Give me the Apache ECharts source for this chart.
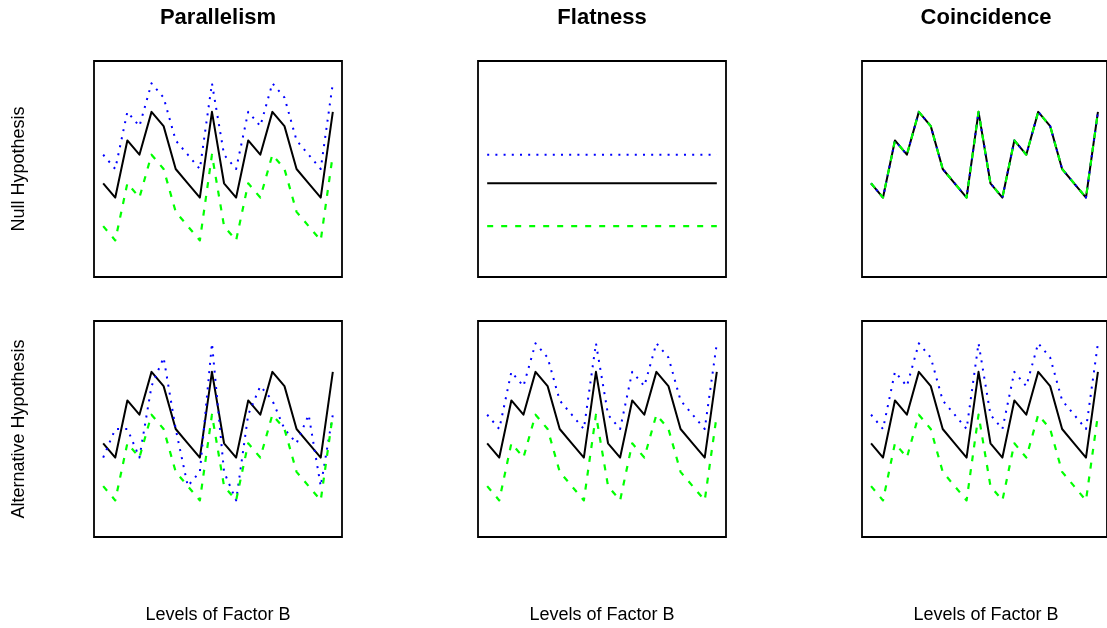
<!DOCTYPE html>
<html>
<head>
<meta charset="utf-8">
<title>Profile analysis hypotheses</title>
<script src="https://cdn.jsdelivr.net/npm/echarts@6/dist/echarts.min.js"></script>
<style>
  html, body { margin: 0; padding: 0; background: #ffffff; }
  #chart { width: 1107px; height: 628px; }
</style>
</head>
<body>
<div id="chart"></div>
<script>
// Levels of factor B (x positions)
const levels = [1, 2, 3, 4, 5, 6, 7, 8, 9, 10, 11, 12, 13, 14, 15, 16, 17, 18, 19, 20];

// Column and row headings
const columnTitles = ['Parallelism', 'Flatness', 'Coincidence'];
const rowTitles = ['Null Hypothesis', 'Alternative Hypothesis'];
const xAxisTitle = 'Levels of Factor B';

// Group profiles: middle group (black), upper group (blue), lower group (green)
const profileMid   = [1, 0, 4, 3, 6, 5, 2, 1, 0, 6, 1, 0, 4, 3, 6, 5, 2, 1, 0, 6];
const profileHigh  = [3, 2, 6, 5, 8, 7, 4, 3, 2, 8, 3, 2, 6, 5, 8, 7, 4, 3, 2, 8];
const profileLow   = [-2, -3, 1, 0, 3, 2, -1, -2, -3, 3, -2, -3, 1, 0, 3, 2, -1, -2, -3, 3];

// Non-parallel upper group profile
const profileCross = [0, 2, 2, 0, 5, 7, 2, -2, -1, 8, -1, -3, 3, 5, 4, 2, 1, 3, -2, 3];

// Flat profiles
const flatMid  = [1, 1, 1, 1, 1, 1, 1, 1, 1, 1, 1, 1, 1, 1, 1, 1, 1, 1, 1, 1];
const flatHigh = [3, 3, 3, 3, 3, 3, 3, 3, 3, 3, 3, 3, 3, 3, 3, 3, 3, 3, 3, 3];
const flatLow  = [-2, -2, -2, -2, -2, -2, -2, -2, -2, -2, -2, -2, -2, -2, -2, -2, -2, -2, -2, -2];

// Panel contents, row by row: [black, blue, green]
const panels = [
  [profileMid, profileHigh, profileLow],
  [flatMid, flatHigh, flatLow],
  [profileMid, profileMid, profileMid],
  [profileMid, profileCross, profileLow],
  [profileMid, profileHigh, profileLow],
  [profileMid, profileHigh, profileLow]
];

const colLeft = [94, 478, 862];
const rowTop = [61, 321];
const panelW = 248;
const panelH = 216;
const FONT = '"Liberation Sans", Arial, sans-serif';

const lineStyles = [
  { color: '#000000', width: 2, type: 'solid' },
  { color: '#0000ff', width: 2, type: [2, 6.2] },
  { color: '#00ff00', width: 2.2, type: [6, 8] }
];

const grid = [], xAxis = [], yAxis = [], series = [];
panels.forEach((groups, p) => {
  const r = Math.floor(p / 3), c = p % 3;
  grid.push({
    left: colLeft[c], top: rowTop[r], width: panelW, height: panelH,
    show: true, borderColor: '#000000', borderWidth: 1.8, backgroundColor: 'transparent'
  });
  xAxis.push({
    type: 'value', gridIndex: p, min: 0.24, max: 20.76,
    axisLine: { show: false }, axisTick: { show: false },
    axisLabel: { show: false }, splitLine: { show: false }
  });
  yAxis.push({
    type: 'value', gridIndex: p, min: -5.56, max: 9.56,
    axisLine: { show: false }, axisTick: { show: false },
    axisLabel: { show: false }, splitLine: { show: false }
  });
  groups.forEach((ys, g) => {
    series.push({
      type: 'line', xAxisIndex: p, yAxisIndex: p,
      data: levels.map((x, i) => [x, ys[i]]),
      symbol: 'none', smooth: false, silent: true,
      lineStyle: Object.assign({ cap: 'butt', join: 'round' }, lineStyles[g]),
      z: 2 + g
    });
  });
});

const graphic = [];
columnTitles.forEach((t, c) => {
  graphic.push({
    type: 'text', x: colLeft[c] + panelW / 2, y: 17.5,
    style: { text: t, font: 'bold 22px ' + FONT, fill: '#000000',
             textAlign: 'center', textVerticalAlign: 'middle' }
  });
  graphic.push({
    type: 'text', x: colLeft[c] + panelW / 2, y: 615.5,
    style: { text: xAxisTitle, font: '18px ' + FONT, fill: '#000000',
             textAlign: 'center', textVerticalAlign: 'middle' }
  });
});
rowTitles.forEach((t, r) => {
  graphic.push({
    type: 'text', x: 19.5, y: rowTop[r] + panelH / 2, rotation: Math.PI / 2,
    style: { text: t, font: '18px ' + FONT, fill: '#000000',
             textAlign: 'center', textVerticalAlign: 'middle' }
  });
});

const chart = echarts.init(document.getElementById('chart'), null, { renderer: 'canvas' });
chart.setOption({
  animation: false,
  backgroundColor: '#ffffff',
  grid, xAxis, yAxis, series, graphic
});
</script>
</body>
</html>
